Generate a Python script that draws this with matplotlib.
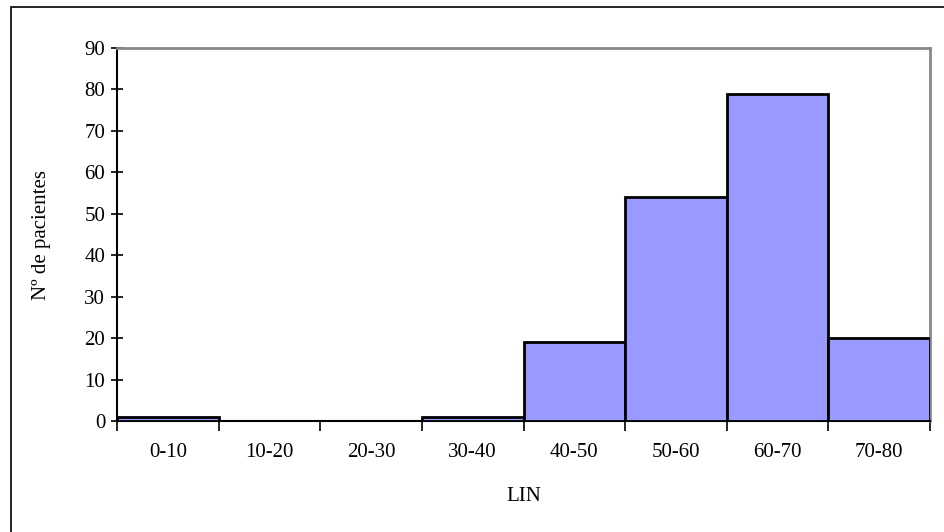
import numpy as np
import matplotlib.pyplot as plt
from matplotlib.patches import Rectangle

categories = ["0-10", "10-20", "20-30", "30-40", "40-50", "50-60", "60-70", "70-80"]
counts = [1, 0, 0, 1, 19, 54, 79, 20]
yticks = list(range(0, 91, 10))

plt.rcParams["font.family"] = ["Liberation Serif", "DejaVu Serif"]

fig = plt.figure(figsize=(9.44, 5.32), dpi=100)
ax = fig.add_axes([117 / 944, 111 / 532, 813 / 944, 373 / 532])

# outer frame of the chart area
fig.patches.append(Rectangle((11 / 944, -0.1), 1.2, (532 - 7) / 532 + 0.1,
                             transform=fig.transFigure, fill=False,
                             edgecolor="black", linewidth=1.2, zorder=0))

x = np.arange(len(categories))
ax.bar(x, counts, width=1.0, color="#9999ff", edgecolor="black",
       linewidth=2, zorder=3)

ax.set_xlim(-0.5, len(categories) - 0.5)
ax.set_ylim(0, 90)
ax.set_yticks(yticks)
ax.set_xticks(x)
ax.set_xticklabels(categories)
ax.set_xticks(np.arange(len(categories) + 1) - 0.5, minor=True)

ax.tick_params(axis="x", which="major", length=0, pad=16, labelsize=15)
ax.tick_params(axis="x", which="minor", length=7, width=1.2, direction="out")
ax.tick_params(axis="y", length=9, width=1.2, direction="inout", labelsize=15, pad=4)

for side in ("top", "right"):
    ax.spines[side].set_color("#888888")
    ax.spines[side].set_linewidth(2)
for side in ("left", "bottom"):
    ax.spines[side].set_linewidth(1.5)

ax.set_ylabel("Nº de pacientes", fontsize=15, labelpad=24)
ax.set_xlabel("LIN", fontsize=15, labelpad=18)

fig.savefig("out.png", dpi=100)
